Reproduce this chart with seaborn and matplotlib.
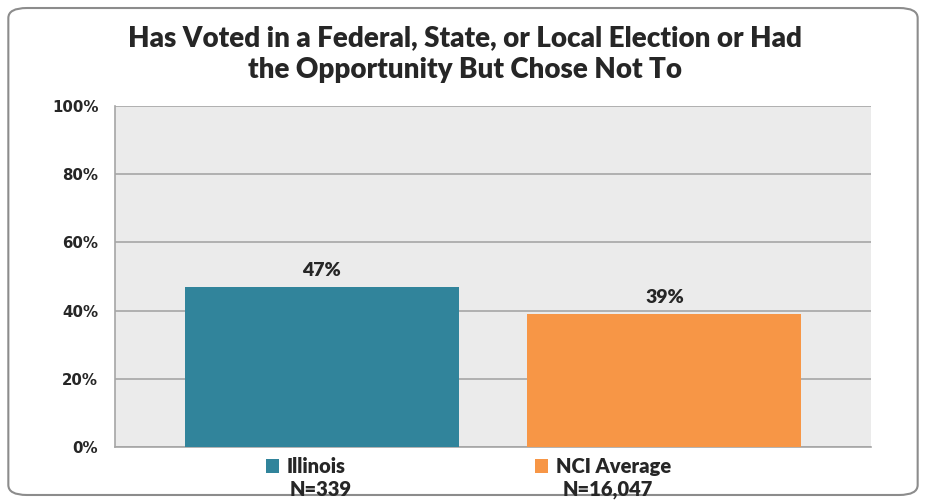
import matplotlib
matplotlib.use("Agg")
import matplotlib.pyplot as plt
import seaborn as sns
import pandas as pd
from matplotlib.patches import FancyBboxPatch
from matplotlib.ticker import FuncFormatter

# data
groups = ["Illinois", "NCI Average"]
sample_sizes = ["N=339", "N=16,047"]
pct_voted = [47, 39]
bar_colors = ["#31849B", "#F79646"]
y_ticks = [0, 20, 40, 60, 80, 100]

sns.set_style("white")
plt.rcParams["font.family"] = ["Lato", "DejaVu Sans"]
plt.rcParams["font.weight"] = "bold"

df = pd.DataFrame({"group": groups, "pct": pct_voted})

fig = plt.figure(figsize=(9.26, 5.01), dpi=100)
ax = fig.add_axes([0.1242, 0.1078, 0.8164, 0.6806])

sns.barplot(data=df, x="group", y="pct", hue="group", palette=bar_colors,
            width=0.8, saturation=1, legend=False, ax=ax, zorder=3,
            edgecolor="none", linewidth=0)

ax.set_facecolor("#EBEBEB")
ax.set_ylim(0, 100)
ax.set_xlim(-0.604, 1.603)
ax.set_yticks(y_ticks)
ax.set_yticklabels([f"{v}%" for v in y_ticks], fontfamily="DejaVu Sans",
                   fontweight="bold", fontsize=10.8)
ax.grid(axis="y", color="#A6A6A6", linewidth=1.2, zorder=0)
ax.set_axisbelow(True)
ax.set_xticks([])
ax.set_xlabel("")
ax.set_ylabel("")
for side in ["top", "right"]:
    ax.spines[side].set_visible(False)
for side in ["left", "bottom"]:
    ax.spines[side].set_color("#A6A6A6")
    ax.spines[side].set_linewidth(1.2)
ax.tick_params(axis="y", direction="out", length=7, width=1.2, color="#A6A6A6", pad=5)

for p, v in zip(ax.patches, pct_voted):
    ax.text(p.get_x() + p.get_width() / 2, v + 2.3, f"{v}%",
            ha="center", va="bottom", fontsize=14, fontweight="heavy")

fig.text(0.502, 0.892, "Has Voted in a Federal, State, or Local Election or Had\nthe Opportunity But Chose Not To",
         ha="center", va="center", fontsize=20, fontweight="heavy", linespacing=1.3)

# legend under the bars, with sample sizes beneath each entry
leg = fig.legend(handles=list(ax.patches), labels=groups, ncol=2,
                 loc="center", bbox_to_anchor=(0.506, 0.069), frameon=False,
                 fontsize=14.5, handlelength=0.65, handleheight=0.65,
                 handletextpad=0.4, columnspacing=9.4)
for t in leg.get_texts():
    t.set_fontweight("heavy")
for x, n in zip([0.346, 0.656], sample_sizes):
    fig.text(x, 0.022, n, ha="center", va="center", fontsize=14.5, fontweight="heavy")

border = FancyBboxPatch((0.009, 0.012), 0.982, 0.972, transform=fig.transFigure,
                        boxstyle="round,pad=0,rounding_size=0.02",
                        facecolor="none", edgecolor="#8C8C8C", linewidth=1.5)
fig.patches.append(border)

fig.savefig("out.png", dpi=100)
